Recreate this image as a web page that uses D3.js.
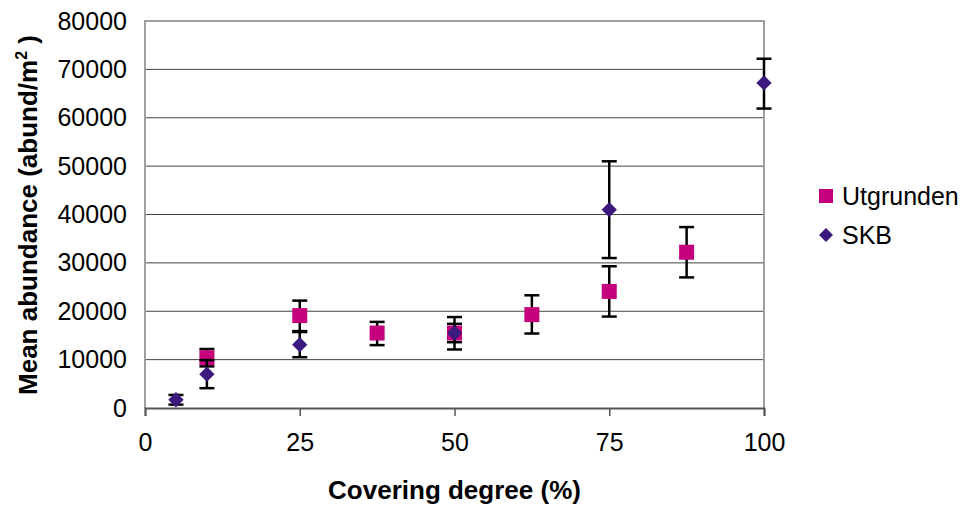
<!DOCTYPE html>
<html>
<head>
<meta charset="utf-8">
<script src="https://cdn.jsdelivr.net/npm/d3@7"></script>
<style>
  body { margin: 0; background: #fff; }
  svg { display: block; font-family: "Liberation Sans", Arial, sans-serif; }
</style>
</head>
<body>
<svg id="chart" width="968" height="510"></svg>
<script>
// Data
const xTicks = [0, 25, 50, 75, 100];
const yTicks = [0, 10000, 20000, 30000, 40000, 50000, 60000, 70000, 80000];

const utgX    = [10, 25, 37.5, 50, 62.5, 75, 87.5];
const utgMean = [10400, 19100, 15500, 15500, 19300, 24100, 32200];
const utgLow  = [8600, 15900, 13000, 13600, 15400, 18900, 27000];
const utgHigh = [12200, 22200, 17800, 17400, 23300, 29300, 37400];

const skbX    = [5, 10, 25, 50, 75, 100];
const skbMean = [1700, 7000, 13100, 15500, 41000, 67200];
const skbLow  = [700, 4100, 10500, 12100, 31000, 61900];
const skbHigh = [2700, 9900, 15700, 18800, 51000, 72200];

const COLORS = { utg: '#c4007c', skb: '#3c1a7d' };

const svg = d3.select('#chart');
const plot = { left: 145, right: 764, top: 21, bottom: 408 };

const x = d3.scaleLinear().domain([0, 100]).range([plot.left, plot.right]);
const y = d3.scaleLinear().domain([0, 80000]).range([plot.bottom, plot.top]);

// gridlines
svg.append('g')
    .selectAll('line')
    .data(yTicks.filter(d => d > 0 && d < 80000))
    .enter().append('line')
    .attr('x1', plot.left).attr('x2', plot.right)
    .attr('y1', d => y(d)).attr('y2', d => y(d))
    .attr('stroke', '#444').attr('stroke-width', 1);

// plot frame (top, left, right in grey)
svg.append('path')
    .attr('d', `M${plot.left},${plot.bottom}V${plot.top}H${plot.right}V${plot.bottom}`)
    .attr('fill', 'none').attr('stroke', '#a0a0a0').attr('stroke-width', 2);

// x axis
const xAxis = svg.append('g')
    .attr('transform', `translate(0,${plot.bottom})`)
    .call(d3.axisBottom(x).tickValues(xTicks).tickSize(8).tickPadding(17));
xAxis.select('.domain').attr('stroke', '#555').attr('stroke-width', 2);
xAxis.selectAll('.tick line').attr('stroke', '#555').attr('stroke-width', 1.5);
xAxis.selectAll('.tick text')
    .attr('font-size', 25).attr('fill', '#000')
    .attr('font-family', '"Liberation Sans", Arial, sans-serif');

// y axis
const yAxis = svg.append('g')
    .attr('transform', `translate(${plot.left},0)`)
    .call(d3.axisLeft(y).tickValues(yTicks).tickSize(0).tickPadding(18).tickFormat(d3.format('d')));
yAxis.select('.domain').remove();
yAxis.selectAll('.tick text')
    .attr('font-size', 25).attr('fill', '#000')
    .attr('font-family', '"Liberation Sans", Arial, sans-serif');

// axis titles
svg.append('text')
    .attr('x', (plot.left + plot.right) / 2).attr('y', 499)
    .attr('text-anchor', 'middle')
    .attr('font-size', 26).attr('font-weight', 'bold')
    .text('Covering degree (%)');

const yt = svg.append('text')
    .attr('transform', 'translate(37,215) rotate(-90)')
    .attr('text-anchor', 'middle')
    .attr('font-size', 26).attr('font-weight', 'bold');
yt.append('tspan').text('Mean abundance (abund/m');
yt.append('tspan').attr('font-size', 16).attr('dy', -10).text('2');
yt.append('tspan').attr('dy', 10).text(' )');

// series drawing: error bars first, markers on top
function drawSeries(xs, mean, low, high, color, shape) {
    const g = svg.append('g');
    const rows = xs.map((v, i) => ({ x: v, m: mean[i], lo: low[i], hi: high[i] }));
    const cap = 7.5;

    const eb = g.selectAll('.eb').data(rows).enter().append('g')
        .attr('stroke', '#000').attr('stroke-width', 2.5);
    eb.append('line')
        .attr('x1', d => x(d.x)).attr('x2', d => x(d.x))
        .attr('y1', d => y(d.lo)).attr('y2', d => y(d.hi));
    eb.append('line')
        .attr('x1', d => x(d.x) - cap).attr('x2', d => x(d.x) + cap)
        .attr('y1', d => y(d.hi)).attr('y2', d => y(d.hi));
    eb.append('line')
        .attr('x1', d => x(d.x) - cap).attr('x2', d => x(d.x) + cap)
        .attr('y1', d => y(d.lo)).attr('y2', d => y(d.lo));

    const sym = d3.symbol().type(shape === 'square' ? d3.symbolSquare : d3.symbolDiamond2)
        .size(shape === 'square' ? 225 : 150);
    g.selectAll('.pt').data(rows).enter().append('path')
        .attr('d', sym)
        .attr('transform', d => `translate(${x(d.x)},${y(d.m)})`)
        .attr('fill', color);
}

drawSeries(utgX, utgMean, utgLow, utgHigh, COLORS.utg, 'square');
drawSeries(skbX, skbMean, skbLow, skbHigh, COLORS.skb, 'diamond');

// legend
const legend = [
    { name: 'Utgrunden', color: COLORS.utg, type: d3.symbolSquare, size: 196, y: 196 },
    { name: 'SKB', color: COLORS.skb, type: d3.symbolDiamond2, size: 125, y: 235 }
];
const lg = svg.append('g');
lg.selectAll('path').data(legend).enter().append('path')
    .attr('d', d => d3.symbol().type(d.type).size(d.size)())
    .attr('transform', d => `translate(826,${d.y})`)
    .attr('fill', d => d.color);
lg.selectAll('text').data(legend).enter().append('text')
    .attr('x', 842).attr('y', d => d.y + 8.5)
    .attr('font-size', 25).attr('fill', '#000')
    .text(d => d.name);
</script>
</body>
</html>
